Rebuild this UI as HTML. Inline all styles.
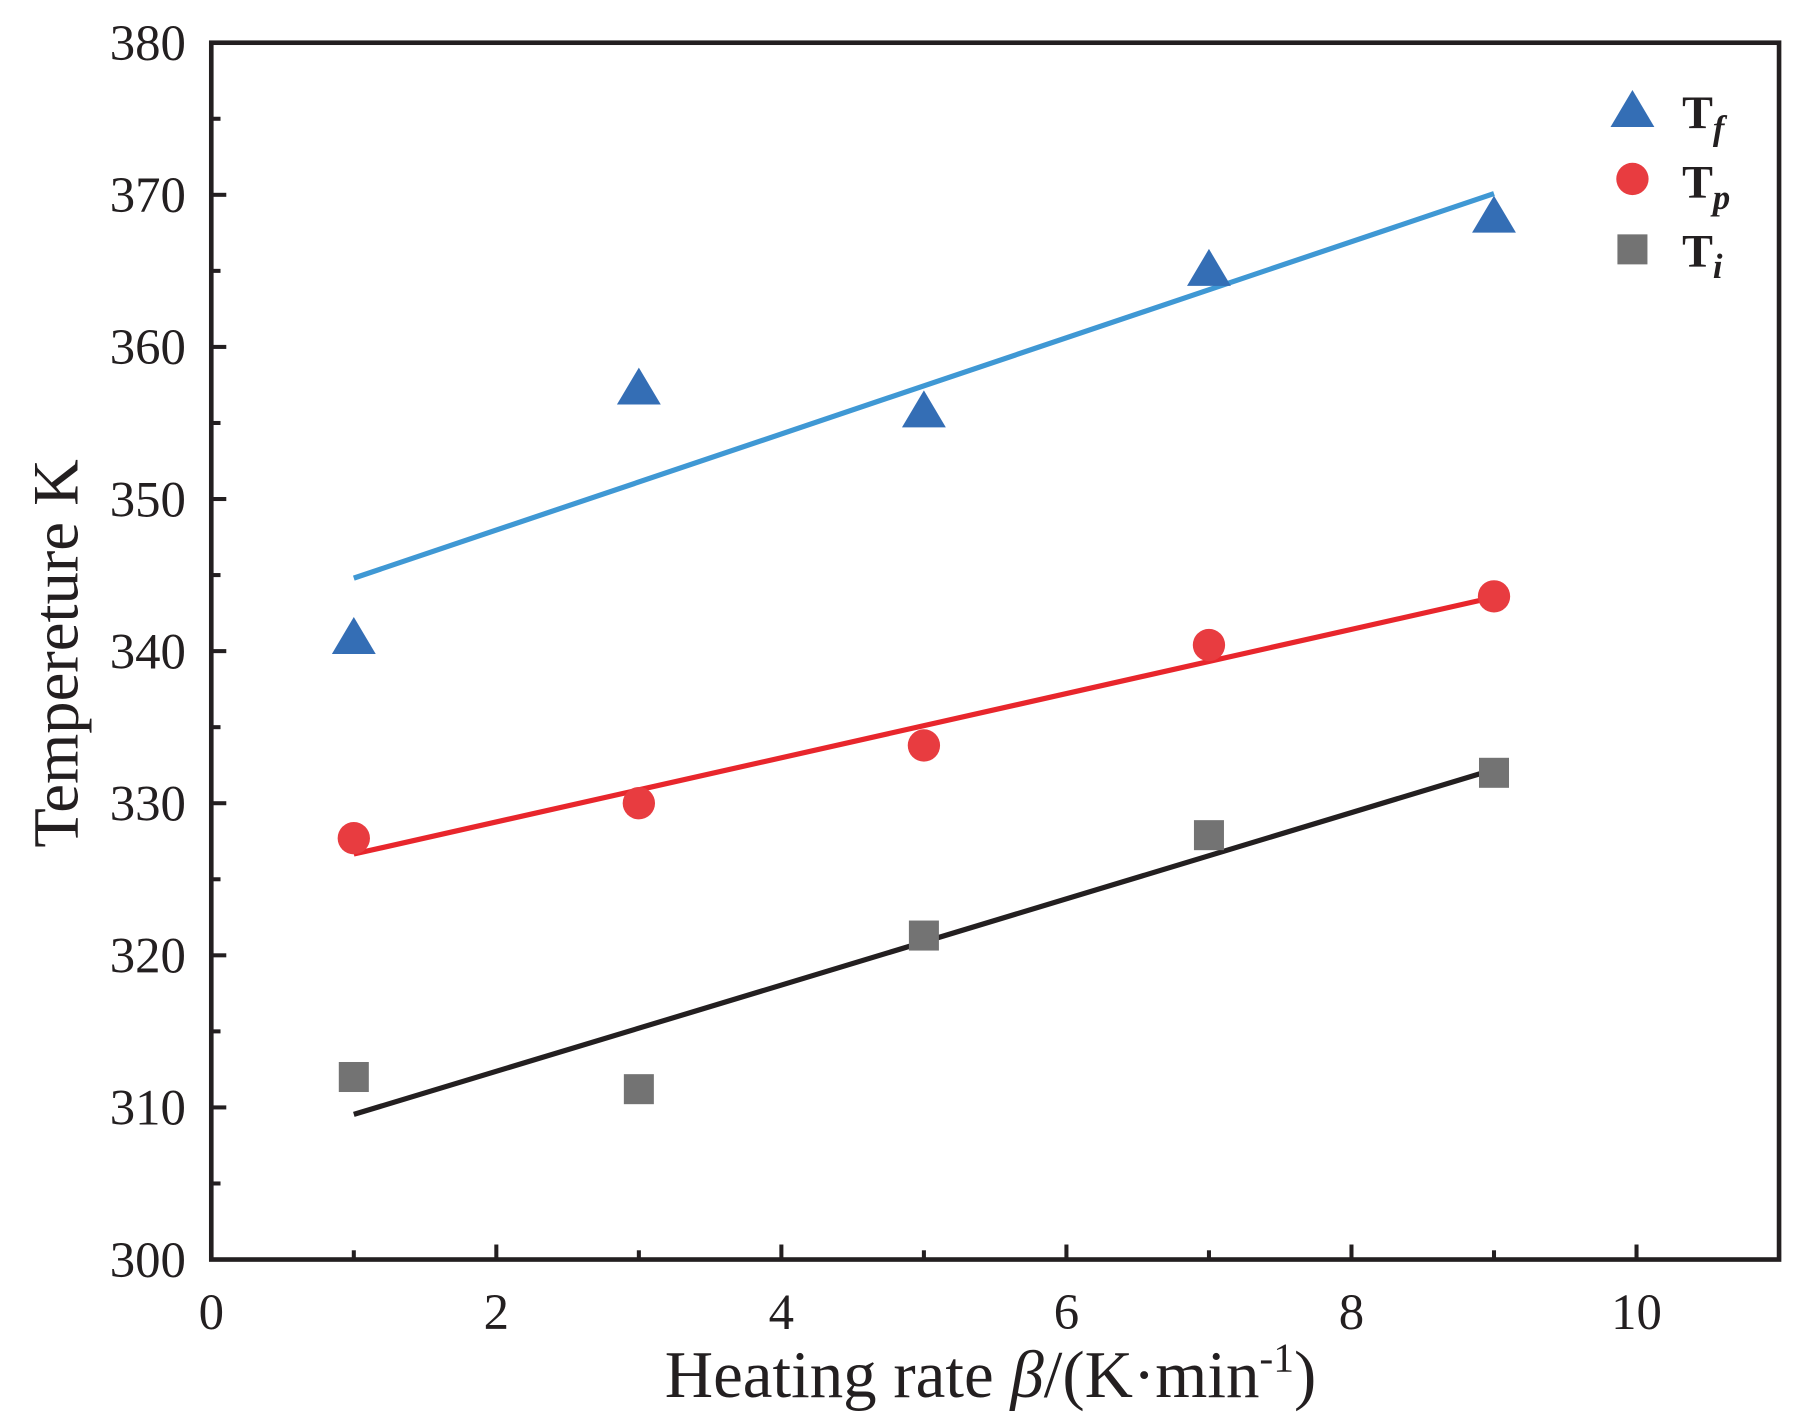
<!DOCTYPE html>
<html><head><meta charset="utf-8"><style>
html,body{margin:0;padding:0;background:#fff;}
svg{display:block;}
text{font-family:"Liberation Serif",serif;fill:#231f20;}
</style></head><body>
<svg id="chart" width="1801" height="1423" viewBox="0 0 1560 1232.6" xmlns="http://www.w3.org/2000/svg">
</svg>
<script>
const xs = [1,3,5,7,9];
const tf = [340.8,357.2,355.7,365.0,368.5];
const tp = [327.7,330.0,333.8,340.4,343.6];
const ti = [312.0,311.2,321.3,327.9,332.0];
const xTicks = [0,2,4,6,8,10];
const yTicks = [300,310,320,330,340,350,360,370,380];
const L=183,R=1541,T=37,B=1091;
const X=v=>L+(v-0)/(11-0)*(R-L);
const Y=v=>B-(v-300)/(380-300)*(B-T);
const svg=document.getElementById('chart');
const NS='http://www.w3.org/2000/svg';
function mk(tag,attrs,parent){const e=document.createElementNS(NS,tag);for(const k in attrs)e.setAttribute(k,attrs[k]);(parent||svg).appendChild(e);return e;}
function fit(ys){const mx=xs.reduce((a,b)=>a+b)/xs.length,my=ys.reduce((a,b)=>a+b)/ys.length;let n=0,d=0;xs.forEach((x,i)=>{n+=(x-mx)*(ys[i]-my);d+=(x-mx)**2;});const s=n/d;return [my+s*(xs[0]-mx),my+s*(xs[xs.length-1]-mx)];}
let f=mk('rect',{x:L,y:T,width:R-L,height:B-T,fill:'none',stroke:'#231f20','stroke-width':4});


for(let v=1;v<=11;v++){const maj=v%2===0;let t=mk('line',{x1:X(v),x2:X(v),y1:B,y2:B-(maj?13:8),stroke:'#231f20','stroke-width':3.5});

}
xTicks.forEach(v=>{let t=mk('text',{x:X(v),y:B+60,'font-size':44,'text-anchor':'middle'});t.textContent=v;

});
for(let v=305;v<380;v+=5){const maj=v%10===0;let t=mk('line',{x1:L,x2:L+(maj?13:8),y1:Y(v),y2:Y(v),stroke:'#231f20','stroke-width':3.5});

}
yTicks.forEach(v=>{let t=mk('text',{x:L-22,y:Y(v)+15,'font-size':44,'text-anchor':'end'});t.textContent=v;

});
let xt=mk('text',{x:858,y:1210,'font-size':58,'text-anchor':'middle'});
xt.innerHTML='Heating rate  <tspan font-style="italic">β</tspan>/(K·min<tspan font-size="36" dy="-22">-1</tspan><tspan dy="22">)</tspan>';


let yt=mk('text',{x:0,y:0,'font-size':56,'text-anchor':'middle',transform:'translate(67,566) rotate(-90)'});
yt.textContent='Tempereture K';


[[tf,'#3f98d4','fit-line-tf'],[tp,'#e8262c','fit-line-tp'],[ti,'#231f20','fit-line-ti']].forEach(([ys,c,n])=>{const [a,b]=fit(ys);let l=mk('line',{x1:X(xs[0]),y1:Y(a),x2:X(xs[xs.length-1]),y2:Y(b),stroke:c,'stroke-width':4.5});

});
function tri(cx,cy,n){let p=mk('polygon',{points:`${cx},${cy-19} ${cx-19},${cy+13} ${cx+19},${cy+13}`,fill:'#346eb5'});}
function circ(cx,cy,n){let p=mk('circle',{cx:cx,cy:cy,r:14,fill:'#e83c40'});}
function sq(cx,cy,n){let p=mk('rect',{x:cx-13,y:cy-13,width:26,height:26,fill:'#737373'});}
xs.forEach((x,i)=>{tri(X(x),Y(tf[i]),'point-tf');circ(X(x),Y(tp[i]),'point-tp');sq(X(x),Y(ti[i]),'point-ti');});
tri(1414,97,'legend-marker-tf');circ(1414,155,'legend-marker-tp');sq(1414,216,'legend-marker-ti');
[['f',111,'legend-label-tf'],['p',171,'legend-label-tp'],['i',231,'legend-label-ti']].forEach(([s,y,n])=>{let t=mk('text',{x:1457,y:y,'font-size':40,'font-weight':'bold'});t.innerHTML='T<tspan font-style="italic" font-size="30" dy="10">'+s+'</tspan>';

});
</script>
</body></html>
